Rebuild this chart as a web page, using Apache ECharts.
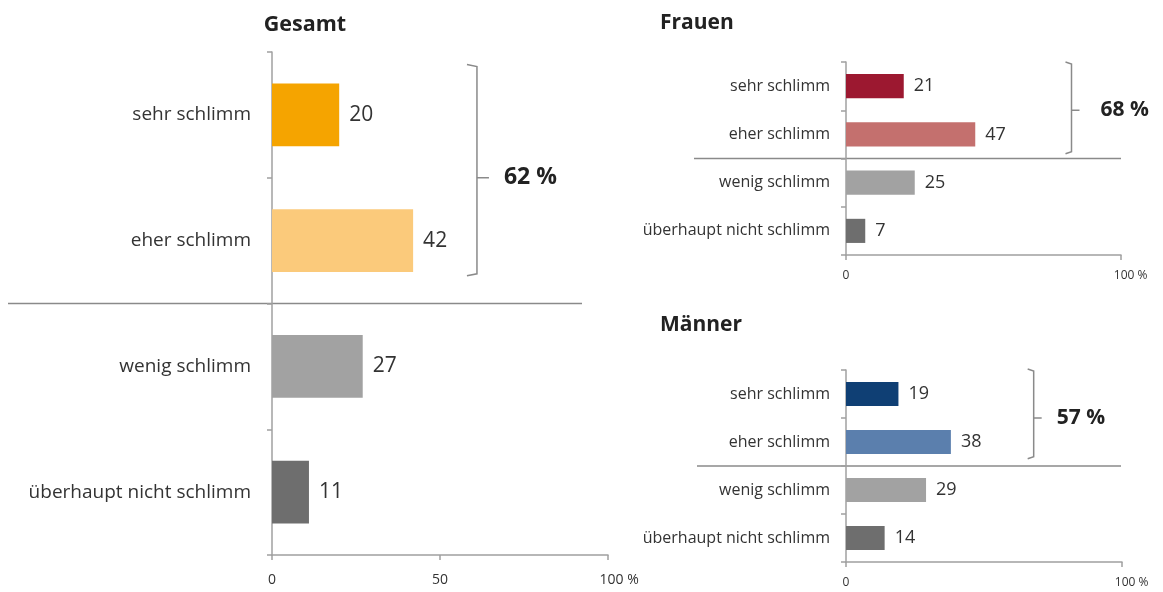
<!DOCTYPE html>
<html>
<head>
<meta charset="utf-8">
<script src="https://cdn.jsdelivr.net/npm/echarts@6/dist/echarts.min.js"></script>
<style>
  html, body { margin: 0; padding: 0; background: #fff; }
  #chart { width: 1163px; height: 592px; }
</style>
</head>
<body>
<div id="chart"></div>
<script>
// Werte in Prozent
const categories = ['sehr schlimm', 'eher schlimm', 'wenig schlimm', 'überhaupt nicht schlimm'];
const gesamtValues = [20, 42, 27, 11];
const frauenValues = [21, 47, 25, 7];
const maennerValues = [19, 38, 29, 14];
const panelTitles = ['Gesamt', 'Frauen', 'Männer'];
const topShares = ['62 %', '68 %', '57 %'];

const gesamtColors = ['#F5A400', '#FBCA7B', '#A2A2A2', '#6E6E6E'];
const frauenColors = ['#9C1830', '#C4706E', '#A2A2A2', '#6E6E6E'];
const maennerColors = ['#0F3F74', '#5B7FAD', '#A2A2A2', '#6E6E6E'];

const FONT = '"Open Sans", "Noto Sans", sans-serif';
const AXIS_GRAY = '#a0a0a0';

// layout per panel
const panels = [
  { values: gesamtValues, colors: gesamtColors, grid: {left: 272, right: 555, top: 52, bottom: 37},
    interval: 50, catSize: 19, valSize: 21, tickSize: 14, catMargin: 21, tickMargin: 18,
    title: {x: 305, y: 25, align: 'center'}, titleSize: 21.5,
    sep: [8, 582], bracket: {val: 61, top: 0.4, bottom: 0.28, serif: 10, gap: 27, size: 23} },
  { values: frauenValues, colors: frauenColors, grid: {left: 846, right: 42, top: 62, height: 193},
    interval: 100, catSize: 16, valSize: 18, tickSize: 12, catMargin: 16, tickMargin: 15,
    title: {x: 660, y: 23, align: 'left'}, titleSize: 21,
    sep: [694, 1121], bracket: {val: 82, top: 0.5, bottom: 0.4, serif: 6, gap: 29, size: 21} },
  { values: maennerValues, colors: maennerColors, grid: {left: 846, right: 41, top: 370, height: 192},
    interval: 100, catSize: 16, valSize: 18, tickSize: 12, catMargin: 16, tickMargin: 15,
    title: {x: 660, y: 325, align: 'left'}, titleSize: 21,
    sep: [697, 1121], bracket: {val: 68, top: 0.52, bottom: 0.35, serif: 6, gap: 23, size: 21} }
];

const chart = echarts.init(document.getElementById('chart'));

const option = {
  animation: false,
  grid: panels.map(p => p.grid),
  xAxis: panels.map((p, i) => ({
    type: 'value', gridIndex: i, min: 0, max: 100, interval: p.interval,
    splitLine: {show: false},
    axisLine: {show: true, lineStyle: {color: AXIS_GRAY, width: 1.5}},
    axisTick: {show: true, length: 5, lineStyle: {color: AXIS_GRAY, width: 1.5}},
    axisLabel: {
      fontFamily: FONT, fontSize: p.tickSize, color: '#333', margin: p.tickMargin,
      formatter: v => v === 100 ? '{p|100 %}' : String(v),
      rich: {p: {fontFamily: FONT, fontSize: p.tickSize, color: '#333', padding: [0, 0, 0, p.tickSize * 1.6]}}
    }
  })),
  yAxis: panels.map((p, i) => ({
    type: 'category', gridIndex: i, data: categories, inverse: true,
    axisLine: {show: true, lineStyle: {color: AXIS_GRAY, width: 1.5}},
    axisTick: {show: true, length: 5, lineStyle: {color: AXIS_GRAY, width: 1.5}},
    axisLabel: {fontFamily: FONT, fontSize: p.catSize, color: '#333', margin: p.catMargin}
  })),
  series: panels.map((p, i) => ({
    type: 'bar', xAxisIndex: i, yAxisIndex: i, barWidth: '50%',
    data: p.values.map((v, k) => ({value: v, itemStyle: {color: p.colors[k]}})),
    label: {show: true, position: 'right', distance: 10, fontFamily: FONT,
      fontSize: p.valSize, color: '#333'}
  }))
};

chart.setOption(option);

// Titel, Trennlinien und Klammern aus den Achsen ableiten
const graphics = [];
panels.forEach((p, i) => {
  const finder = {xAxisIndex: i, yAxisIndex: i};
  const c0 = chart.convertToPixel(finder, [0, categories[0]]);
  const c1 = chart.convertToPixel(finder, [0, categories[1]]);
  const c2 = chart.convertToPixel(finder, [0, categories[2]]);
  const band = c1[1] - c0[1];
  const sepY = (c1[1] + c2[1]) / 2;
  const bx = chart.convertToPixel(finder, [p.bracket.val, categories[0]])[0];
  const bTop = c0[1] - p.bracket.top * band;
  const bBot = c1[1] + p.bracket.bottom * band;
  const bMid = (c0[1] + c1[1]) / 2;

  graphics.push({
    type: 'text', x: p.title.x, y: p.title.y,
    style: {text: panelTitles[i], font: 'bold ' + p.titleSize + 'px ' + FONT, fill: '#222',
      textAlign: p.title.align, textVerticalAlign: 'middle'}
  });
  graphics.push({
    type: 'line', shape: {x1: p.sep[0], y1: sepY, x2: p.sep[1], y2: sepY},
    style: {stroke: '#8a8a8a', lineWidth: 1.5}
  });
  graphics.push({
    type: 'polyline',
    shape: {points: [[bx - p.bracket.serif, bTop], [bx, bTop + 2], [bx, bBot - 2], [bx - p.bracket.serif, bBot]]},
    style: {stroke: '#8a8a8a', lineWidth: 1.5, fill: null}
  });
  graphics.push({
    type: 'line', shape: {x1: bx, y1: bMid, x2: bx + p.bracket.serif + 2, y2: bMid},
    style: {stroke: '#8a8a8a', lineWidth: 1.5}
  });
  graphics.push({
    type: 'text', x: bx + p.bracket.gap, y: bMid,
    style: {text: topShares[i], font: 'bold ' + p.bracket.size + 'px ' + FONT, fill: '#222',
      textAlign: 'left', textVerticalAlign: 'middle'}
  });
});

chart.setOption({graphic: graphics});
</script>
</body>
</html>
